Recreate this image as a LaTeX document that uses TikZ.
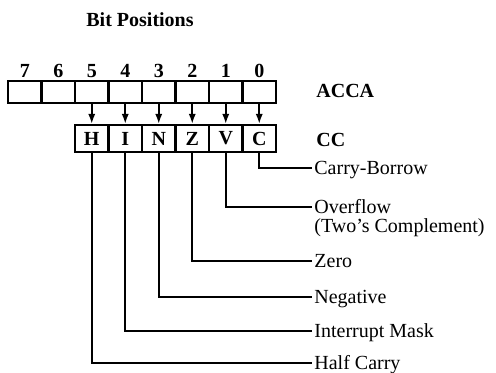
\documentclass[tikz,border=0pt]{standalone}
\usepackage{fontspec}
\setmainfont{Liberation Serif}
\usetikzlibrary{arrows.meta,positioning}

\begin{document}
\begin{tikzpicture}[x=0.5pt,y=-0.5pt,
  bitbox/.style={draw,line width=1.1pt,minimum width=16.75pt,minimum height=11pt,inner sep=0pt},
  ccbox/.style={bitbox,minimum height=13.5pt,font=\bfseries},
  digit/.style={font=\bfseries,inner sep=1pt},
  regname/.style={anchor=west,font=\bfseries,inner sep=0pt},
  lbl/.style={anchor=west,inner sep=1pt,text height=7.5pt,text depth=1pt},
  lead/.style={line width=0.9pt},
  bitarrow/.style={line width=0.9pt,-{Latex[width=3.6pt,length=5pt]}}]
\useasboundingbox (0,0) rectangle (496,373);
\node[font=\bfseries] (title) at (140,20) {Bit Positions};
% ACCA register with bit numbers
\foreach \i in {7,...,0}
  \node[bitbox,label={[digit]above:\i}] (a\i) at ({24.75+33.5*(7-\i)},92) {};
\node[regname] (acca) at (316,91) {ACCA};
% condition code register
\foreach \i/\f in {5/H,4/I,3/N,2/Z,1/V,0/C}
  \node[ccbox] (c\i) at ({24.75+33.5*(7-\i)},138.5) {\f};
\node[regname] (cc) at (316,140) {CC};
\foreach \i in {0,...,5}
  \draw[bitarrow] (a\i.south) -- (c\i.north);
% flag names
\foreach \i/\y/\t in {0/168/Carry-Borrow,1/207/Overflow,2/261/Zero,3/297/Negative,4/331/Interrupt Mask,5/363/Half Carry}
  \node[lbl] (f\i) at (312,\y) {\t};
\node[lbl] (f1b) at (312,226.5) {(Two's Complement)};
\foreach \i in {0,...,5}
  \draw[lead] (c\i.south) |- (f\i.west);
\end{tikzpicture}
\end{document}
